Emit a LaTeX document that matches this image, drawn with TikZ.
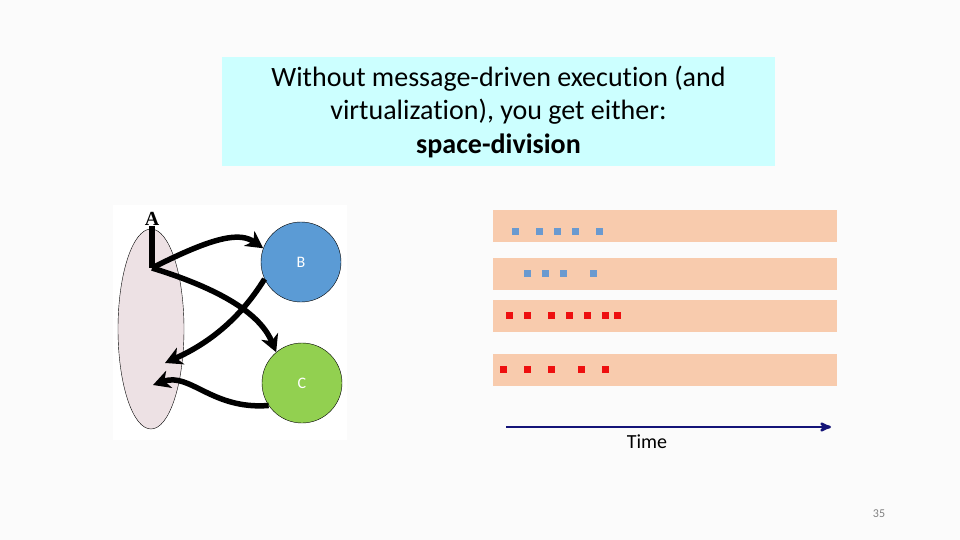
\documentclass[tikz,border=0pt]{standalone}
\usepackage{fontspec}
\setmainfont{Carlito}[Ligatures=NoCommon]
\newfontfamily\serifA{Liberation Serif}
\usetikzlibrary{arrows,arrows.meta,shapes.geometric}

\definecolor{pagebg}{HTML}{FBFBFB}
\definecolor{titlebg}{HTML}{CCFFFF}
\definecolor{bnode}{HTML}{5B9BD5}
\definecolor{cnode}{HTML}{92D050}
\definecolor{lanebg}{HTML}{F8CBAD}
\definecolor{blueq}{HTML}{6A9AD0}
\definecolor{redq}{HTML}{EE0F0F}
\definecolor{procbg}{HTML}{EDE1E4}
\definecolor{timeline}{HTML}{141478}

\begin{document}
\begin{tikzpicture}[x=1pt,y=-1pt,>=stealth',
  proc node/.style={circle,draw,minimum size=80pt,inner sep=0pt,font=\fontsize{16}{18}\selectfont,text=white},
  lane/.style={rectangle,fill=lanebg,minimum width=344pt,minimum height=32pt,inner sep=0pt},
  bq/.style={rectangle,fill=blueq,minimum size=7pt,inner sep=0pt},
  rq/.style={rectangle,fill=redq,minimum size=7pt,inner sep=0pt},
  flow/.style={-{Stealth[length=17pt,width=18pt,inset=5pt]},line width=5.5pt}]

  % page
  \path[fill=pagebg] (0,0) rectangle (960,540);
  \useasboundingbox (0,0) rectangle (960,540);

  % title
  \node[fill=titlebg,minimum width=553pt,minimum height=109pt,align=center,
    font=\fontsize{28}{33.5}\selectfont] (title) at (498.5,111.5)
    {Without message-driven execution (and\\virtualization), you get either:\\\textbf{space-division}};

  % left picture
  \node[fill=white,minimum width=234pt,minimum height=235pt,inner sep=0pt] (pic) at (230,322.5) {};
  \node[ellipse,draw,fill=procbg,minimum width=66pt,minimum height=200pt,inner sep=0pt] (A) at (151,329) {};
  \node[font=\serifA\bfseries\fontsize{20}{20}\selectfont,inner sep=0pt] (Alabel) at (152,219) {A};
  \node[proc node,fill=bnode] (B) at (301,262) {B};
  \node[proc node,fill=cnode] (C) at (302,383) {C};
  \coordinate (root) at (152,268);
  \coordinate (tipB) at (165,363);
  \coordinate (tipC) at (153,385);

  \draw[line width=5.5pt] (Alabel.south) -- (root);
  \draw[flow] (root) .. controls (215,236) and (240,232) .. (B.160);
  \draw[flow] (root) .. controls (230,292) and (262,318) .. (C.130);
  \draw[flow] (B.205) .. controls (238,322) and (205,345) .. (tipB);
  \draw[flow] (C.214) .. controls (212,410) and (190,372) .. (tipC);

  % lanes
  \node[lane] (lane1) at (665,226) {};
  \node[lane] (lane2) at (665,274) {};
  \node[lane] (lane3) at (665,316) {};
  \node[lane] (lane4) at (665,370) {};

  \foreach \x [count=\i] in {515,539,557,575,599}
    \node[bq] (qa\i) at (\x,231) {};
  \foreach \x [count=\i] in {527,545,563,593}
    \node[bq] (qb\i) at (\x,273) {};
  \foreach \x [count=\i] in {509,527,551,569,587,605,617}
    \node[rq] (qc\i) at (\x,315) {};
  \foreach \x [count=\i] in {503,527,551,581,605}
    \node[rq] (qd\i) at (\x,369) {};

  % time axis
  \coordinate (t0) at (506,427);
  \coordinate (t1) at (831,427);
  \draw[->,line width=2.5pt,color=timeline] (t0) -- (t1);
  \node[font=\fontsize{20}{22}\selectfont] (time) at (647,442) {Time};

  \node[font=\fontsize{12}{13}\selectfont,text=gray] (pageno) at (879,514) {35};

\end{tikzpicture}
\end{document}
